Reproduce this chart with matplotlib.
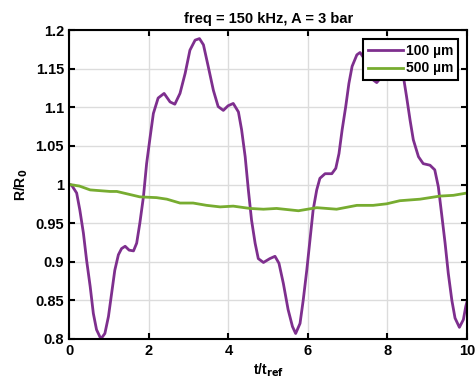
import numpy as np
import matplotlib
matplotlib.use("Agg")
import matplotlib.pyplot as plt
from matplotlib.ticker import FormatStrFormatter, MultipleLocator

plt.rcParams['font.family'] = ['Liberation Sans', 'DejaVu Sans']
plt.rcParams['font.weight'] = 'bold'
plt.rcParams['mathtext.default'] = 'bf'

# 100 um curve
t_100 = [0, 0.055, 0.18, 0.26, 0.35, 0.43, 0.52, 0.60, 0.68, 0.79, 0.89, 0.98,
         1.06, 1.14, 1.23, 1.31, 1.40, 1.50, 1.61, 1.69, 1.77, 1.86, 1.94, 2.03,
         2.11, 2.23, 2.38, 2.53, 2.65, 2.78, 2.91, 3.03, 3.16, 3.27, 3.37, 3.49,
         3.62, 3.74, 3.87, 3.99, 4.12, 4.25, 4.33, 4.42, 4.50, 4.58, 4.67, 4.75,
         4.88, 5.04, 5.17, 5.27, 5.38, 5.50, 5.61, 5.69, 5.80, 5.88, 5.97, 6.05,
         6.13, 6.22, 6.30, 6.43, 6.60, 6.70, 6.78, 6.86, 6.95, 7.03, 7.11, 7.23,
         7.31, 7.39, 7.50, 7.60, 7.73, 7.81, 7.95, 8.10, 8.25, 8.40, 8.48, 8.57,
         8.65, 8.78, 8.90, 9.07, 9.19, 9.28, 9.36, 9.45, 9.53, 9.62, 9.70, 9.81,
         9.91, 9.97, 10.0]
r_100 = [1.0, 0.999, 0.989, 0.967, 0.937, 0.902, 0.868, 0.833, 0.812, 0.800, 0.807, 0.829,
         0.859, 0.889, 0.909, 0.917, 0.920, 0.915, 0.914, 0.924, 0.950, 0.984, 1.027, 1.062,
         1.092, 1.112, 1.118, 1.107, 1.104, 1.118, 1.144, 1.174, 1.187, 1.189, 1.181, 1.153,
         1.122, 1.101, 1.096, 1.102, 1.105, 1.094, 1.071, 1.036, 0.993, 0.954, 0.924, 0.904,
         0.899, 0.904, 0.907, 0.898, 0.872, 0.838, 0.816, 0.807, 0.820, 0.850, 0.889, 0.928,
         0.967, 0.993, 1.008, 1.014, 1.014, 1.021, 1.040, 1.071, 1.101, 1.131, 1.153, 1.168,
         1.171, 1.165, 1.150, 1.137, 1.132, 1.137, 1.155, 1.165, 1.158, 1.140, 1.114, 1.083,
         1.058, 1.036, 1.027, 1.025, 1.019, 0.997, 0.963, 0.924, 0.885, 0.850, 0.827, 0.815,
         0.825, 0.842, 0.848]

# 500 um curve
t_500 = [0, 0.25, 0.52, 1.02, 1.19, 1.44, 1.77, 2.19, 2.45, 2.78, 3.11, 3.45, 3.79,
         4.12, 4.54, 4.88, 5.21, 5.76, 6.22, 6.72, 7.23, 7.64, 7.98, 8.31, 8.82,
         9.32, 9.66, 10.0]
r_500 = [1.0, 0.998, 0.993, 0.991, 0.991, 0.988, 0.984, 0.983, 0.981, 0.976, 0.976, 0.973, 0.971,
         0.972, 0.969, 0.968, 0.969, 0.966, 0.970, 0.968, 0.973, 0.973, 0.975, 0.979, 0.981,
         0.985, 0.986, 0.989]

fig = plt.figure(figsize=(4.76, 3.86), dpi=100)
ax = fig.add_axes([0.146, 0.122, 0.835, 0.800])

ax.plot(t_100, r_100, color='#7E2F8E', lw=2, label='100 µm', solid_joinstyle='round')
ax.plot(t_500, r_500, color='#77AC30', lw=2, label='500 µm', solid_joinstyle='round')

ax.set_xlim(0, 10)
ax.set_ylim(0.8, 1.2)
ax.xaxis.set_major_locator(MultipleLocator(2))
ax.yaxis.set_major_locator(MultipleLocator(0.05))
ax.yaxis.set_major_formatter(FormatStrFormatter('%g'))
ax.grid(True, color='#dcdcdc', lw=1)
ax.set_axisbelow(True)
ax.tick_params(direction='in', top=True, right=True, labelsize=10.5,
               length=4, width=1.5, pad=4)
for s in ax.spines.values():
    s.set_linewidth(1.5)

ax.set_title('freq = 150 kHz, A = 3 bar', fontsize=10.5, fontweight='bold', pad=5)
ax.set_xlabel('t/t$_{ref}$', fontsize=10, fontweight='bold', labelpad=2)
ax.set_ylabel('R/R$_0$', fontsize=10, fontweight='bold', labelpad=4)

leg = ax.legend(loc='upper right', fontsize=10, frameon=True, fancybox=False,
                handlelength=2.5, borderaxespad=0.65, borderpad=0.35,
                labelspacing=0.25, handletextpad=0.2)
leg.get_frame().set_edgecolor('black')
leg.get_frame().set_linewidth(1.5)
leg.get_frame().set_alpha(1)

fig.savefig('out.png', dpi=100)
